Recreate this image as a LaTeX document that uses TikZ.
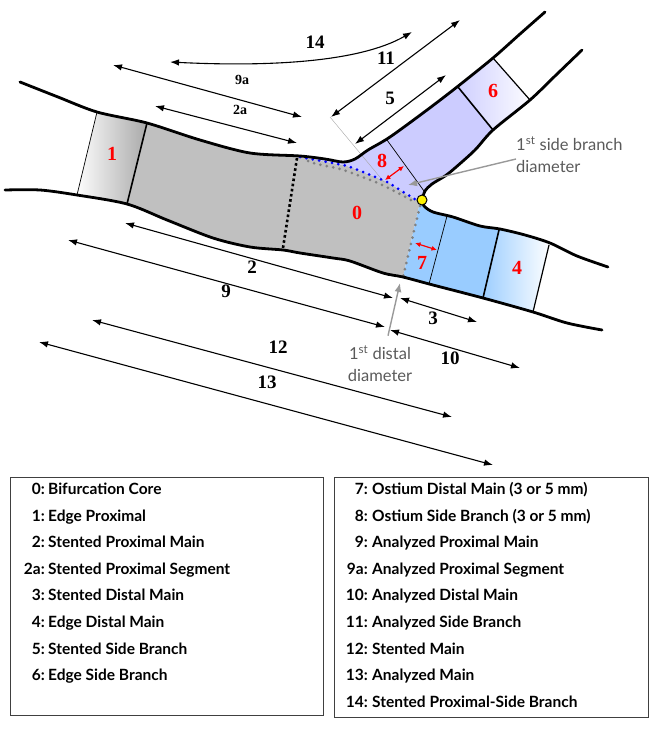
\documentclass[tikz,border=0pt]{standalone}
\usepackage{fontspec}
\setmainfont{Liberation Serif}
\newfontfamily\gillfont{Lato}
\usetikzlibrary{arrows.meta}

\definecolor{corefill}{HTML}{C0C0C0}
\definecolor{sbfill}{HTML}{CCCCFF}
\definecolor{mbfill}{HTML}{99CCFF}
\definecolor{notegray}{HTML}{5A5A5A}
\definecolor{pointergray}{HTML}{999999}
\definecolor{boxgray}{HTML}{404040}

\begin{document}
\begin{tikzpicture}[x=1pt,y=-1pt,
		wall/.style={line width=2.8pt, line cap=round, line join=round},
		cut/.style={line width=1.6pt},
		thincut/.style={line width=0.7pt},
		dimarrow/.style={{Latex[length=9pt,width=6.5pt]}-{Latex[length=9pt,width=6.5pt]}, line width=1.1pt},
		redarrow/.style={{Latex[length=5.5pt,width=5pt]}-{Latex[length=5.5pt,width=5pt]}, red, line width=1.2pt},
		notearrow/.style={-{Latex[length=9pt,width=7pt]}, pointergray, line width=1.4pt},
		dimlabel/.style={font=\fontsize{19}{19}\selectfont\bfseries},
		smalllabel/.style={font=\fontsize{14}{14}\selectfont\bfseries},
		seglabel/.style={text=red, font=\fontsize{20}{20}\selectfont\bfseries},
		note/.style={text=notegray, inner sep=0pt, font=\gillfont\fontsize{16.5}{22}\selectfont},
		legnum/.style={anchor=base east, inner sep=0pt, font=\gillfont\bfseries\fontsize{15.5}{15.5}\selectfont},
		legtxt/.style={anchor=base west, inner sep=0pt, font=\gillfont\bfseries\fontsize{15.5}{15.5}\selectfont}]
	\useasboundingbox (0,0) rectangle (658,739);

	% заливка сегментов внутри сосуда
	\begin{scope}
		\clip plot[smooth] coordinates {(20,82) (58,97) (97,112) (147,123) (200,140) (250,153) (300,156) (325,159) (343,162) (355,159) (368,150) (390,137) (427,110) (457,87) (493,58) (520,34) (545,12)}
			-- plot[smooth] coordinates {(582,50) (555,76) (530,100) (493,130) (475,150) (455,168) (445,176) (432,184) (425,191) (422,200)}
			-- plot[smooth] coordinates {(422,200) (424,206) (433,212) (453,217) (480,226) (500,229) (525,235) (550,243) (577,256) (608,267)}
			-- plot[smooth] coordinates {(602,330) (567,323) (533,312) (483,298) (433,285) (403,277) (383,273) (350,261) (333,258) (300,253) (283,250) (250,247) (213,238) (167,220) (127,204) (77,195) (40,190) (5,190)}
			-- cycle;
		% сегмент 1
		\shade[left color=white, right color=black!35] (99,103) -- (150,113) -- (124,215) -- (75,204) -- cycle;
		% сегменты 0 и 2
		\fill[corefill] (150,113) -- (298,135) -- (300,157)
			-- plot[smooth] coordinates {(300,157) (327,162) (347,166) (363,172) (387,182) (400,190) (413,198) (420,202)}
			-- (403,277) -- (400,292) -- (250,265) -- (124,215) -- cycle;
		% боковая ветвь: сегменты 8 и 5
		\fill[sbfill] plot[smooth] coordinates {(300,157) (327,162) (347,166) (363,172) (387,182) (400,190) (413,198) (420,202)}
			-- (445,200) -- (499,137) -- (452,80) -- (330,130) -- (298,135) -- cycle;
		% сегмент 6
		\shade[left color=sbfill, right color=white] (452,80) -- (499,137) -- (536,107) -- (487,51) -- cycle;
		% дистальная ветвь: сегменты 7 и 3
		\fill[mbfill] (420,202) -- (440,198) -- (501,222) -- (480,311) -- (400,292) -- (403,277) -- cycle;
		% сегмент 4
		\shade[left color=mbfill, right color=white] (501,222) -- (480,311) -- (530,325) -- (551,237) -- cycle;
	\end{scope}

	% границы сегментов
	\draw[thincut] ( 97,112) -- ( 77,195);
	\draw[cut] (147,123) -- (127,204);
	\draw[thincut] (387,140) -- (424,191);
	\draw[thincut] (447,216) -- (429,284);
	\draw[cut] (458,87) -- (493,130);
	\draw[cut, line width=1.2pt] (493,58) -- (530,100);
	\draw[cut] (499,230) -- (483,298);
	\draw[cut, line width=1.2pt] (549,245) -- (533,312);
	\draw[gray!70, line width=0.4pt] (330,117) -- (384,182);

	% пунктирные линии бифуркации
	\draw[line width=2.6pt, dash pattern=on 2.6pt off 2.6pt] (297,158) -- (283,248);
	\draw[gray, line width=3pt, line cap=round, dash pattern=on 0pt off 6.5pt] plot[smooth] coordinates {(308,161) (317,164) (340,169) (360,176) (380,184) (400,194) (416,203)};
	\draw[gray, line width=3pt, line cap=round, dash pattern=on 0pt off 6.5pt] (420,206) -- (403,277);
	\draw[blue, line width=3pt, line cap=round, dash pattern=on 0pt off 6.5pt] plot[smooth] coordinates {(300,157) (327,162) (347,166) (363,172) (387,182) (400,190) (413,198) (420,202)};

	% стенки сосуда
	\draw[wall] plot[smooth] coordinates {(20,82) (58,97) (97,112) (147,123) (200,140) (250,153) (300,156) (325,159) (343,162) (355,159) (368,150) (390,137) (427,110) (457,87) (493,58) (520,34) (545,12)};
	\draw[wall] plot[smooth] coordinates {(582,50) (555,76) (530,100) (493,130) (475,150) (455,168) (445,176) (432,184) (425,191) (422,200)};
	\draw[wall] plot[smooth] coordinates {(422,200) (424,206) (433,212) (453,217) (480,226) (500,229) (525,235) (550,243) (577,256) (608,267)};
	\draw[wall] plot[smooth] coordinates {(5,190) (40,190) (77,195) (127,204) (167,220) (213,238) (250,247) (283,250) (300,253) (333,258) (350,261) (383,273) (403,277) (433,285) (483,298) (533,312) (567,323) (602,330)};
	\node[circle, draw, fill=yellow, line width=1pt, minimum size=10pt, inner sep=0pt] (carina) at (422,200) {};

	% номера сегментов
	\node[seglabel] (s0) at (357,213) {0};
	\node[seglabel] (s1) at (112,154) {1};
	\node[seglabel] (s4) at (517,268) {4};
	\node[seglabel] (s6) at (493,91) {6};
	\node[seglabel] (s7) at (422,263) {7};
	\node[seglabel] (s8) at (382,161) {8};
	\draw[redarrow] (385,180) -- (404,166);
	\draw[redarrow] (415,243) -- (437,250);

	% размерные стрелки
	\draw[dimarrow] (170,62) .. controls (270,67) and (360,62) .. (412,32);
	\node[dimlabel] (d14) at (315,42) {14};
	\draw[dimarrow] (113,65) -- (302,117);
	\node[smalllabel] (d9a) at (242,80) {9a};
	\draw[dimarrow] (155,106) -- (297,143);
	\node[smalllabel] (d2a) at (240,110) {2a};
	\draw[dimarrow] (331,117) -- (460,20);
	\node[dimlabel] (d11) at (386,58) {11};
	\draw[dimarrow] (355,144) -- (446,75);
	\node[dimlabel] (d5) at (390,98) {5};
	\draw[dimarrow] (125,223) -- (393,298);
	\node[dimlabel] (d2) at (252,267) {2};
	\draw[dimarrow] (68,240) -- (385,327);
	\node[dimlabel] (d9) at (226,291) {9};
	\draw[dimarrow] (400,298) -- (477,322);
	\node[dimlabel] (d3) at (433,318) {3};
	\draw[dimarrow] (390,330) -- (520,368);
	\node[dimlabel] (d10) at (450,358) {10};
	\draw[dimarrow] (92,320) -- (452,417);
	\node[dimlabel] (d12) at (278,347) {12};
	\draw[dimarrow] (39,342) -- (493,465);
	\node[dimlabel] (d13) at (267,382) {13};

	% подписи диаметров
	\node[note, anchor=west, align=left] (sbnote) at (516,155) {1\textsuperscript{st} side branch\\diameter};
	\coordinate (sbtip) at (408,185);
	\draw[notearrow] ([yshift=-4pt]sbnote.west) -- (sbtip);
	\node[note, align=center] (dnote) at (380,364) {1\textsuperscript{st} distal\\diameter};
	\coordinate (dtip) at (400,283);
	\draw[notearrow] ([xshift=8pt,yshift=10pt]dnote.north) -- (dtip);

	% легенда, левая колонка
	\draw[boxgray, line width=0.9pt] (10,477) rectangle (323,715);
	\node[legnum] (n0) at (45,494.5) {0:};
	\node[legtxt] (t0) at (48,494.5) {Bifurcation Core};
	\node[legnum] (n1) at (45,521.1) {1:};
	\node[legtxt] (t1) at (48,521.1) {Edge Proximal};
	\node[legnum] (n2) at (45,547.7) {2:};
	\node[legtxt] (t2) at (48,547.7) {Stented Proximal Main};
	\node[legnum] (n2a) at (45,574.3) {2a:};
	\node[legtxt] (t2a) at (48,574.3) {Stented Proximal Segment};
	\node[legnum] (n3) at (45,600.9) {3:};
	\node[legtxt] (t3) at (48,600.9) {Stented Distal Main};
	\node[legnum] (n4) at (45,627.5) {4:};
	\node[legtxt] (t4) at (48,627.5) {Edge Distal Main};
	\node[legnum] (n5) at (45,654.1) {5:};
	\node[legtxt] (t5) at (48,654.1) {Stented Side Branch};
	\node[legnum] (n6) at (45,680.7) {6:};
	\node[legtxt] (t6) at (48,680.7) {Edge Side Branch};

	% легенда, правая колонка
	\draw[boxgray, line width=0.9pt] (334,477) rectangle (648,717);
	\node[legnum] (n7) at (368,494.5) {7:};
	\node[legtxt] (t7) at (372,494.5) {Ostium Distal Main (3 or 5 mm)};
	\node[legnum] (n8) at (368,521.1) {8:};
	\node[legtxt] (t8) at (372,521.1) {Ostium Side Branch (3 or 5 mm)};
	\node[legnum] (n9) at (368,547.7) {9:};
	\node[legtxt] (t9) at (372,547.7) {Analyzed Proximal Main};
	\node[legnum] (n9a) at (368,574.3) {9a:};
	\node[legtxt] (t9a) at (372,574.3) {Analyzed Proximal Segment};
	\node[legnum] (n10) at (368,600.9) {10:};
	\node[legtxt] (t10) at (372,600.9) {Analyzed Distal Main};
	\node[legnum] (n11) at (368,627.5) {11:};
	\node[legtxt] (t11) at (372,627.5) {Analyzed Side Branch};
	\node[legnum] (n12) at (368,654.1) {12:};
	\node[legtxt] (t12) at (372,654.1) {Stented Main};
	\node[legnum] (n13) at (368,680.7) {13:};
	\node[legtxt] (t13) at (372,680.7) {Analyzed Main};
	\node[legnum] (n14) at (368,707.3) {14:};
	\node[legtxt] (t14) at (372,707.3) {Stented Proximal-Side Branch};
\end{tikzpicture}
\end{document}
